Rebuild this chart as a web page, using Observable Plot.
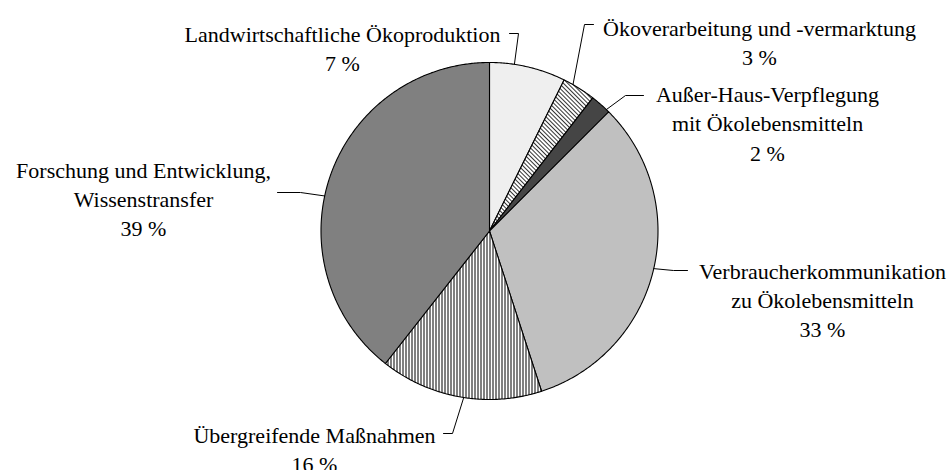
<!DOCTYPE html>
<html><head><meta charset="utf-8">
<script src="https://cdn.jsdelivr.net/npm/d3@7"></script>
<script src="https://cdn.jsdelivr.net/npm/@observablehq/plot@0.6"></script>
<style>body{margin:0;background:#fff} svg text{font-family:"Liberation Serif","Times New Roman",serif !important;}</style>
</head><body><div id="chart"></div>
<script>
// ---- data ----
const categories = [
  "Landwirtschaftliche Ökoproduktion",
  "Ökoverarbeitung und -vermarktung",
  "Außer-Haus-Verpflegung\nmit Ökolebensmitteln",
  "Verbraucherkommunikation\nzu Ökolebensmitteln",
  "Übergreifende Maßnahmen",
  "Forschung und Entwicklung,\nWissenstransfer"
];
const shares = [7.3, 3.2, 2.0, 32.5, 15.6, 39.4];
const percentLabels = ["7 %", "3 %", "2 %", "33 %", "16 %", "39 %"];

// ---- styles / layout ----
const fills = ["#efefef", "url(#hatchDiag)", "#454545", "#c0c0c0", "url(#hatchVert)", "#808080"];
const W = 951, H = 470, CX = 489, CY = 230.5, R = 168.5;
const labelPos = [[342, 47], [759, 41], [767, 121.5], [822, 298], [314, 447.5], [143, 197]];
const leaderText = [
  [[509, 33], [518, 33]],
  [[593, 24], [584, 24]],
  [[643, 95], [625, 95]],
  [[687, 270], [673, 270]],
  [[443, 433], [452, 433]],
  [[277, 192], [300, 192]]
];
const leaderAngle = [8.5, 29.7, 43.9, 102.9, 188.8, 282];

// ---- geometry from data ----
const arcs = d3.pie().sort(null).value(d => d)(shares);
const slicePts = [];
arcs.forEach((a, i) => {
  slicePts.push({k: i, x: CX, y: CY, f: fills[i]});
  const n = Math.max(2, Math.ceil((a.endAngle - a.startAngle) / (Math.PI / 360)));
  for (let j = 0; j <= n; j++) {
    const t = a.startAngle + (a.endAngle - a.startAngle) * j / n;
    slicePts.push({k: i, x: CX + R * Math.sin(t), y: CY - R * Math.cos(t), f: fills[i]});
  }
  slicePts.push({k: i, x: CX, y: CY, f: fills[i]});
});

const leaderPts = [];
leaderText.forEach((seg, i) => {
  seg.forEach(p => leaderPts.push({k: i, x: p[0], y: p[1]}));
  const t = leaderAngle[i] * Math.PI / 180;
  leaderPts.push({k: i, x: CX + R * Math.sin(t), y: CY - R * Math.cos(t)});
});

const labels = categories.map((c, i) => ({x: labelPos[i][0], y: labelPos[i][1], text: c + "\n" + percentLabels[i]}));

const svg = Plot.plot({
  width: W, height: H,
  margin: 0,
  x: {domain: [0, W], range: [0, W], axis: null},
  y: {domain: [0, H], range: [0, H], axis: null},
  color: {type: "identity"},
  style: {background: "#fff", fontFamily: "'Liberation Serif', serif"},
  marks: [
    Plot.line(slicePts, {x: "x", y: "y", z: "k", fill: "f", stroke: "#000", strokeWidth: 1.1, strokeLinejoin: "round", curve: "linear"}),
    Plot.line(leaderPts, {x: "x", y: "y", z: "k", stroke: "#000", strokeWidth: 1, curve: "linear"}),
    Plot.text(labels, {x: "x", y: "y", text: "text", textAnchor: "middle", lineAnchor: "middle", lineHeight: 1.33,
      fontSize: 22, fontFamily: "'Liberation Serif', serif", fill: "#000"})
  ]
});

const defs = d3.select(svg).insert("defs", ":first-child");
const pd = defs.append("pattern").attr("id", "hatchDiag").attr("patternUnits", "userSpaceOnUse")
  .attr("width", 3).attr("height", 3).attr("patternTransform", "rotate(-45)");
pd.append("rect").attr("width", 3).attr("height", 3).attr("fill", "#fff");
pd.append("rect").attr("x", 0).attr("y", 0).attr("width", 0.8).attr("height", 3).attr("fill", "#000");
const pv = defs.append("pattern").attr("id", "hatchVert").attr("patternUnits", "userSpaceOnUse")
  .attr("width", 3).attr("height", 3);
pv.append("rect").attr("width", 3).attr("height", 3).attr("fill", "#fff");
pv.append("rect").attr("x", 0).attr("y", 0).attr("width", 1).attr("height", 3).attr("fill", "#000");

document.getElementById("chart").appendChild(svg);
</script>
</body></html>
